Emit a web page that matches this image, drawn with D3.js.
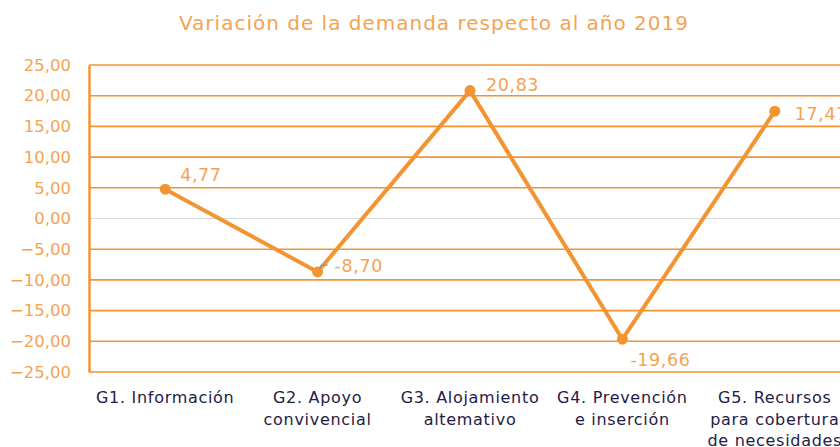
<!DOCTYPE html>
<meta charset="utf-8">
<style>
  body { margin: 0; background: #fff; }
  text { font-family: Tahoma, "DejaVu Sans", Verdana, sans-serif; }
</style>
<div id="chart"></div>
<script src="https://cdn.jsdelivr.net/npm/d3@7"></script>
<script>
  // chart data
  var categories = [
    ["G1. Información"],
    ["G2. Apoyo", "convivencial"],
    ["G3. Alojamiento", "altemativo"],
    ["G4. Prevención", "e inserción"],
    ["G5. Recursos", "para cobertura", "de necesidades"]
  ];
  var values = [4.77, -8.70, 20.83, -19.66, 17.47];
  var valueLabels = ["4,77", "-8,70", "20,83", "-19,66", "17,47"];
  var yTicks = [25, 20, 15, 10, 5, 0, -5, -10, -15, -20, -25];

  var W = 840, H = 447;
  var margin = { top: 65, left: 89 };
  var plotW = 762, plotH = 307;
  var orange = "#f39433", tickCol = "#f5a352";

  var svg = d3.select("#chart").append("svg")
    .attr("width", W).attr("height", H);

  svg.append("text")
    .attr("x", 434).attr("y", 30)
    .attr("text-anchor", "middle")
    .attr("fill", tickCol)
    .style("font-size", "20px")
    .style("letter-spacing", "1px")
    .text("Variación de la demanda respecto al año 2019");

  var g = svg.append("g")
    .attr("transform", "translate(" + margin.left + "," + margin.top + ")");

  var x = d3.scaleBand()
    .domain(d3.range(categories.length))
    .range([0, plotW]);
  var y = d3.scaleLinear().domain([-25, 25]).range([plotH, 0]);

  // gridlines
  g.selectAll(".grid").data(yTicks).enter().append("line")
    .attr("x1", 0).attr("x2", plotW)
    .attr("y1", function (d) { return y(d); })
    .attr("y2", function (d) { return y(d); })
    .attr("stroke", function (d) { return d === 0 ? "#d9d9d9" : orange; })
    .attr("stroke-width", function (d) { return d === 0 ? 1 : 1.6; });

  // left axis
  var yAxis = g.append("g")
    .call(d3.axisLeft(y).tickValues(yTicks).tickSize(0).tickPadding(18)
      .tickFormat(function (d) { return d3.format(".2f")(d).replace(".", ","); }));
  yAxis.select(".domain").attr("stroke", orange).attr("stroke-width", 2.5);
  yAxis.selectAll("text")
    .attr("fill", tickCol)
    .style("font-size", "16.5px")
    .style("font-family", 'Tahoma, "DejaVu Sans", sans-serif');

  // category labels
  var cat = g.selectAll(".cat").data(categories).enter().append("text")
    .attr("text-anchor", "middle")
    .attr("fill", "#1f2045")
    .style("font-size", "16px")
    .style("letter-spacing", "0.7px")
    .attr("transform", function (d, i) {
      return "translate(" + (x(i) + x.bandwidth() / 2) + "," + (plotH + 31) + ")";
    });
  cat.selectAll("tspan").data(function (d) { return d; }).enter().append("tspan")
    .attr("x", 0)
    .attr("y", function (d, i) { return i * 21.5; })
    .text(function (d) { return d; });

  // line
  var line = d3.line()
    .x(function (d, i) { return x(i) + x.bandwidth() / 2; })
    .y(function (d) { return y(d); });
  g.append("path").datum(values)
    .attr("d", line)
    .attr("fill", "none")
    .attr("stroke", orange)
    .attr("stroke-width", 4)
    .attr("stroke-linejoin", "round");

  g.selectAll(".dot").data(values).enter().append("circle")
    .attr("cx", function (d, i) { return x(i) + x.bandwidth() / 2; })
    .attr("cy", function (d) { return y(d); })
    .attr("r", 5.5)
    .attr("fill", orange);

  // leader for -8,70
  var lx = x(1) + x.bandwidth() / 2, ly = y(values[1]);
  g.append("path")
    .attr("d", "M" + (lx + 2) + "," + (ly - 3) + "L" + (lx + 4) + "," + (ly - 7) + "L" + (lx + 10) + "," + (ly - 7))
    .attr("fill", "none").attr("stroke", "#999").attr("stroke-width", 1.5);

  // value labels
  var off = [[15, -8], [17, 0], [16, 0], [8, 27], [20, 9]];
  g.selectAll(".lbl").data(values).enter().append("text")
    .attr("x", function (d, i) { return x(i) + x.bandwidth() / 2 + off[i][0]; })
    .attr("y", function (d, i) { return y(d) + off[i][1]; })
    .attr("fill", tickCol)
    .style("font-size", "17.5px")
    .style("letter-spacing", "0.6px")
    .text(function (d, i) { return valueLabels[i]; });
</script>
